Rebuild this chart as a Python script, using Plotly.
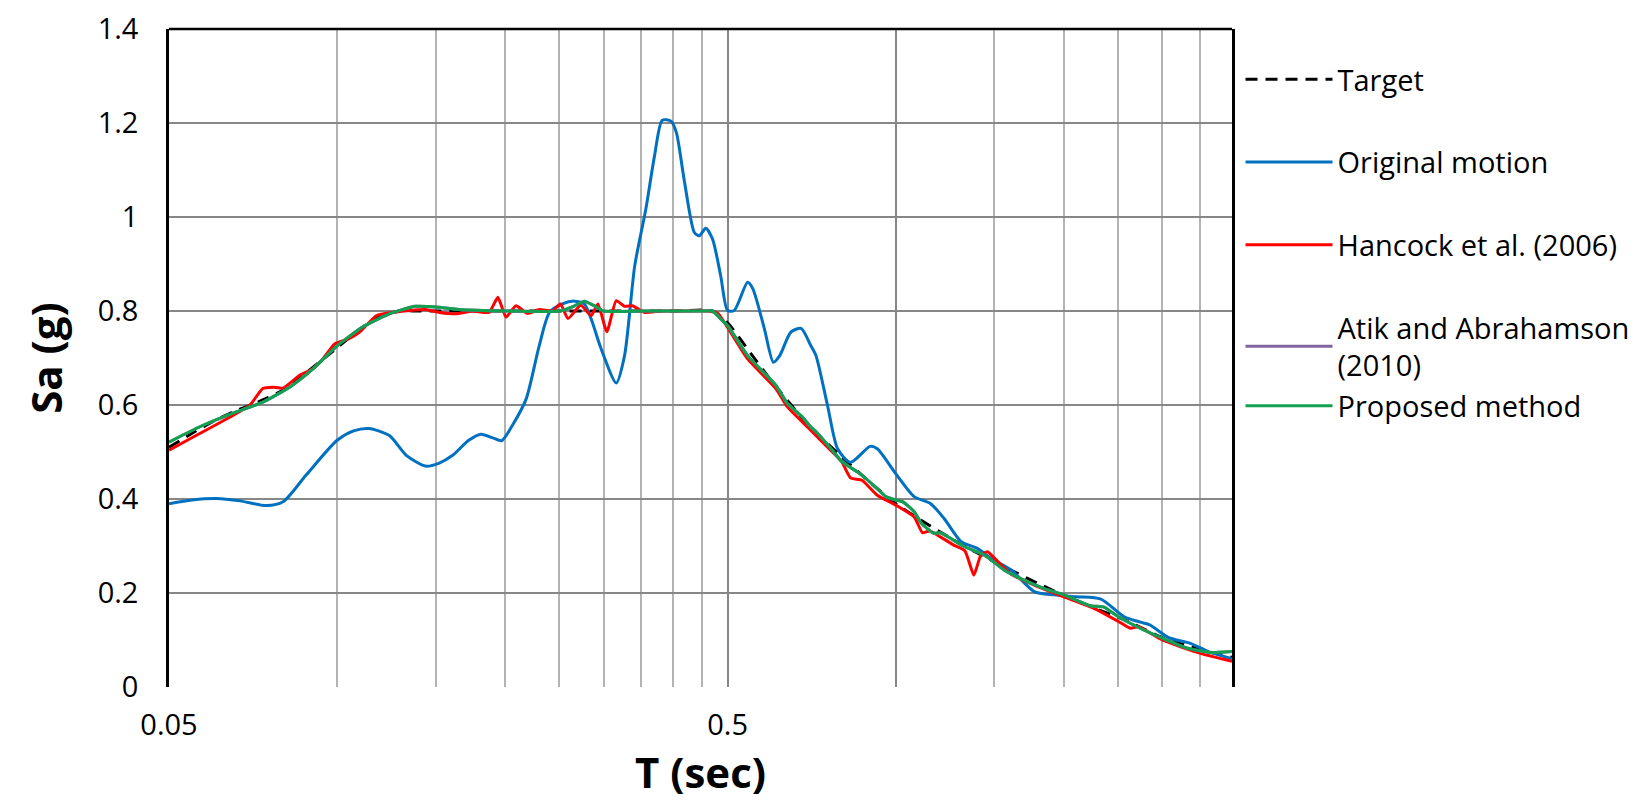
import plotly.graph_objects as go

# ---------------- data ----------------
target_T = [0.05, 0.055, 0.06, 0.065, 0.07, 0.075, 0.08, 0.085, 0.09, 0.095, 0.1, 0.11, 0.12, 0.13,
            0.14, 0.2, 0.3, 0.4, 0.47, 0.5, 0.55, 0.6, 0.65, 0.7, 0.8, 0.9, 1.0, 1.2, 1.4, 1.6,
            1.8, 2.0, 2.3, 2.6, 3.0, 3.5, 4.0]
target_Sa = [0.51, 0.54, 0.565, 0.585, 0.60, 0.615, 0.632, 0.655, 0.678, 0.70, 0.722, 0.762, 0.79, 0.80,
             0.80, 0.80, 0.80, 0.80, 0.80, 0.775, 0.71, 0.65, 0.60, 0.555, 0.49, 0.435, 0.39, 0.33, 0.285, 0.25,
             0.22, 0.195, 0.165, 0.14, 0.105, 0.08, 0.063]

orig_T = [0.05, 0.055, 0.0608, 0.067, 0.0747, 0.080, 0.088, 0.1, 0.107, 0.114, 0.124, 0.133, 0.144,
          0.152, 0.161, 0.172, 0.181, 0.190, 0.197, 0.206, 0.218, 0.230, 0.240, 0.253, 0.266, 0.277,
          0.285, 0.297, 0.316, 0.327, 0.341, 0.357, 0.370, 0.382, 0.396, 0.405, 0.418, 0.436, 0.445,
          0.457, 0.470, 0.486, 0.500, 0.514, 0.543, 0.555, 0.582, 0.604, 0.620, 0.649, 0.677, 0.705,
          0.720, 0.755, 0.787, 0.83, 0.90, 0.927, 1.0, 1.079, 1.155, 1.22, 1.31, 1.40, 1.48, 1.61,
          1.77, 1.92, 2.11, 2.33, 2.56, 2.74, 2.85, 3.08, 3.37, 3.65, 4.0]
orig_Sa = [0.390, 0.398, 0.401, 0.396, 0.386, 0.394, 0.451, 0.525, 0.545, 0.550, 0.535, 0.493, 0.470,
           0.476, 0.493, 0.525, 0.538, 0.530, 0.524, 0.557, 0.613, 0.726, 0.797, 0.815, 0.821, 0.815,
           0.783, 0.719, 0.647, 0.705, 0.896, 1.017, 1.130, 1.206, 1.204, 1.179, 1.080, 0.967, 0.960,
           0.976, 0.953, 0.875, 0.801, 0.801, 0.861, 0.847, 0.762, 0.691, 0.705, 0.755, 0.763, 0.726,
           0.705, 0.599, 0.507, 0.478, 0.512, 0.507, 0.454, 0.405, 0.390, 0.359, 0.309, 0.295, 0.274, 0.249,
           0.203, 0.196, 0.192, 0.187, 0.150, 0.138, 0.132, 0.105, 0.093, 0.074, 0.060]

hancock_T = [0.05, 0.0559, 0.0642, 0.0697, 0.0736, 0.0767, 0.080, 0.0857, 0.0905, 0.0943, 0.099,
             0.105, 0.1097, 0.1175, 0.124, 0.135, 0.144, 0.1525, 0.163, 0.175, 0.187, 0.194, 0.2006,
             0.209, 0.219, 0.230, 0.243, 0.251, 0.259, 0.273, 0.285, 0.293, 0.304, 0.316, 0.327, 0.338,
             0.355, 0.38, 0.42, 0.46, 0.48, 0.50, 0.543, 0.61, 0.64, 0.705, 0.766, 0.80, 0.83, 0.87,
             0.927, 1.0, 1.079, 1.117, 1.15, 1.27, 1.33, 1.38, 1.42, 1.46, 1.52, 1.61, 1.77, 2.0,
             2.26, 2.5, 2.63, 2.72, 3.0, 3.5, 4.0]
hancock_Sa = [0.504, 0.535, 0.574, 0.599, 0.635, 0.638, 0.636, 0.663, 0.677, 0.698, 0.730,
              0.741, 0.755, 0.790, 0.796, 0.801, 0.803, 0.797, 0.794, 0.800, 0.797, 0.829, 0.787,
              0.811, 0.795, 0.803, 0.800, 0.815, 0.784, 0.812, 0.790, 0.815, 0.756, 0.822, 0.810, 0.811,
              0.797, 0.800, 0.800, 0.800, 0.795, 0.765, 0.698, 0.635, 0.596, 0.546, 0.503, 0.480, 0.445, 0.440,
              0.408, 0.387, 0.362, 0.328, 0.332, 0.302, 0.290, 0.238, 0.280, 0.288, 0.268, 0.240, 0.217, 0.192,
              0.168, 0.140, 0.125, 0.128, 0.100, 0.072, 0.0545]

proposed_T = [0.05, 0.0559, 0.0642, 0.0736, 0.0822, 0.0905, 0.1, 0.111, 0.124, 0.138, 0.152, 0.165,
              0.2, 0.25, 0.265, 0.277, 0.29, 0.30, 0.35, 0.45, 0.47, 0.486, 0.5, 0.543, 0.61, 0.64,
              0.68, 0.705, 0.72, 0.766, 0.80, 0.86, 0.927, 0.96, 1.0, 1.03, 1.079, 1.109, 1.139, 1.171,
              1.204, 1.325, 1.44, 1.563, 1.67, 1.84, 2.0, 2.23, 2.36, 2.5, 2.74, 3.0, 3.32, 3.65, 4.0]
proposed_Sa = [0.521, 0.550, 0.580, 0.606, 0.638, 0.677, 0.726, 0.766, 0.794, 0.810, 0.808, 0.803,
               0.800, 0.800, 0.810, 0.821, 0.810, 0.800, 0.800, 0.800, 0.800, 0.783, 0.769, 0.705, 0.642, 0.603,
               0.575, 0.553, 0.543, 0.507, 0.480, 0.455, 0.422, 0.405, 0.398, 0.394, 0.373, 0.350, 0.337, 0.327,
               0.328, 0.299, 0.281, 0.249, 0.231, 0.210, 0.196, 0.173, 0.170, 0.150, 0.125, 0.104, 0.083, 0.0735, 0.0757]

# Atik and Abrahamson (2010) lies under the proposed-method curve in the reference
atik_T = proposed_T
atik_Sa = proposed_Sa

x_major_ticks = [0.05, 0.5, 1.0]
x_major_text = ["0.05", "0.5", ""]
x_minor_grid = [0.1, 0.15, 0.2, 0.25, 0.3, 0.35, 0.4, 0.45, 1.5, 2.0, 2.5, 3.0, 3.5]
y_ticks = [0, 0.2, 0.4, 0.6, 0.8, 1.0, 1.2, 1.4]
y_text = ["0", "0.2", "0.4", "0.6", "0.8", "1", "1.2", "1.4"]

FONT = "Open Sans"

fig = go.Figure()
fig.add_trace(go.Scatter(x=target_T, y=target_Sa, mode="lines", name="Target",
                         line=dict(color="black", width=3, dash="12px,8px", shape="spline", smoothing=0.6),
                         legendgroup="g1"))
fig.add_trace(go.Scatter(x=orig_T, y=orig_Sa, mode="lines", name="Original motion",
                         line=dict(color="#0070C0", width=3, shape="spline", smoothing=0.7),
                         legendgroup="g2"))
fig.add_trace(go.Scatter(x=hancock_T, y=hancock_Sa, mode="lines", name="Hancock et al. (2006)",
                         line=dict(color="#FF0000", width=3, shape="spline", smoothing=0.5),
                         legendgroup="g3"))
fig.add_trace(go.Scatter(x=atik_T, y=atik_Sa, mode="lines", name="Atik and Abrahamson<br>(2010)",
                         line=dict(color="#8064A2", width=3, shape="spline", smoothing=0.5),
                         legendgroup="g4"))
fig.add_trace(go.Scatter(x=proposed_T, y=proposed_Sa, mode="lines", name="Proposed method",
                         line=dict(color="#12A150", width=3, shape="spline", smoothing=0.5),
                         legendgroup="g4"))

fig.update_layout(
    width=1639, height=802,
    margin=dict(l=161, r=415, t=21, b=123, autoexpand=False),
    paper_bgcolor="white", plot_bgcolor="white",
    font=dict(family=FONT, color="black"),
    showlegend=True,
    legend=dict(x=1.008, y=0.962, xanchor="left", yanchor="top",
                font=dict(family=FONT, size=29, color="black"),
                traceorder="grouped", tracegroupgap=42, itemwidth=87,
                bgcolor="rgba(0,0,0,0)", borderwidth=0),
    xaxis=dict(type="log", range=[-1.30103, 0.60206],
               tickmode="array", tickvals=x_major_ticks, ticktext=x_major_text,
               showgrid=True, gridcolor="#878787", gridwidth=2,
               minor=dict(tickmode="array", tickvals=x_minor_grid, showgrid=True,
                          gridcolor="#b3b3b3", gridwidth=2, ticks=""),
               ticks="outside", ticklen=12, tickcolor="rgba(0,0,0,0)",
               tickfont=dict(family=FONT, size=29), ticklabeloverflow="allow",
               showline=False, zeroline=False, automargin=False,
               title=dict(text="<b>T (sec)</b>", font=dict(family=FONT, size=42), standoff=0)),
    yaxis=dict(range=[0, 1.4], tickmode="array", tickvals=y_ticks, ticktext=y_text,
               showgrid=True, gridcolor="#878787", gridwidth=2,
               ticks="outside", ticklen=22, tickcolor="rgba(0,0,0,0)",
               tickfont=dict(family=FONT, size=29), ticklabeloverflow="allow",
               showline=True, linecolor="black", linewidth=2.5, mirror=True,
               zeroline=False, automargin=False,
               title=dict(text="<b>Sa (g)</b>", font=dict(family=FONT, size=42), standoff=22)),
    shapes=[dict(type="line", xref="paper", yref="paper", x0=0, x1=1, y0=1, y1=1,
                 line=dict(color="black", width=2.5))],
)

fig.write_html("out.html")
